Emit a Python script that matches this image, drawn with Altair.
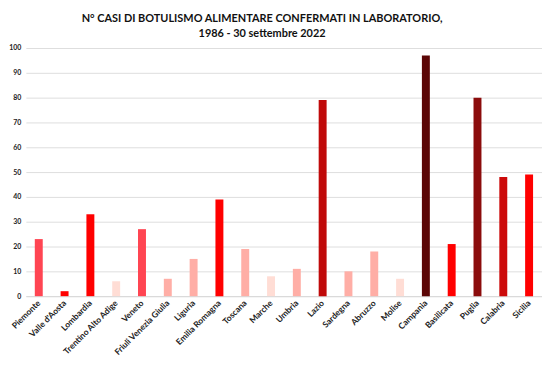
import altair as alt
import pandas as pd

regions = ["Piemonte", "Valle d'Aosta", "Lombardia", "Trentino Alto Adige", "Veneto",
           "Friuli Venezia Giulia", "Liguria", "Emilia Romagna", "Toscana", "Marche",
           "Umbria", "Lazio", "Sardegna", "Abruzzo", "Molise", "Campania",
           "Basilicata", "Puglia", "Calabria", "Sicilia"]
cases = [23, 2, 33, 6, 27, 7, 15, 39, 19, 8, 11, 79, 10, 18, 7, 97, 21, 80, 48, 49]
colors = ["#FF4552", "#FF0000", "#FF0000", "#FFDDD5", "#FF4552",
          "#FFAEA6", "#FFAEA6", "#FF0000", "#FFAEA6", "#FFDDD5",
          "#FFAEA6", "#C00A0A", "#FFAEA6", "#FFAEA6", "#FFDDD5", "#5C0606",
          "#FF0000", "#8B0C0C", "#CC0A0A", "#FF0000"]

df = pd.DataFrame({"regione": regions, "casi": cases})

chart = alt.Chart(df).mark_bar(size=8).encode(
    x=alt.X("regione:N", sort=regions, title=None,
            scale=alt.Scale(paddingInner=0.6, paddingOuter=0.3),
            axis=alt.Axis(labelAngle=-45, labelAlign="right", labelBaseline="middle",
                          labelFont="Lato", labelFontSize=8.5, labelFontWeight="bold",
                          labelColor="#222", ticks=False, domainColor="#d9d9d9",
                          labelPadding=5)),
    y=alt.Y("casi:Q", title=None,
            scale=alt.Scale(domain=[0, 100]),
            axis=alt.Axis(values=list(range(0, 101, 10)), labelFont="Lato",
                          labelFontSize=7, labelFontWeight="bold", labelColor="#222",
                          ticks=False, domain=False, gridColor="#dedede",
                          labelPadding=5)),
    color=alt.Color("regione:N", scale=alt.Scale(domain=regions, range=colors), legend=None),
).properties(
    width=520, height=250,
    padding={"left": 0, "top": 4, "right": 0, "bottom": 0},
    title=alt.TitleParams(
        ["N° CASI DI BOTULISMO ALIMENTARE CONFERMATI IN LABORATORIO,", "1986 - 30 settembre 2022"],
        font="Lato", fontSize=11, fontWeight="bold", color="#111", lineHeight=15,
        anchor="middle", offset=5, dx=-22),
).configure_view(stroke=None)

chart.save("out.html", embed_options={"renderer": "svg", "actions": False})
